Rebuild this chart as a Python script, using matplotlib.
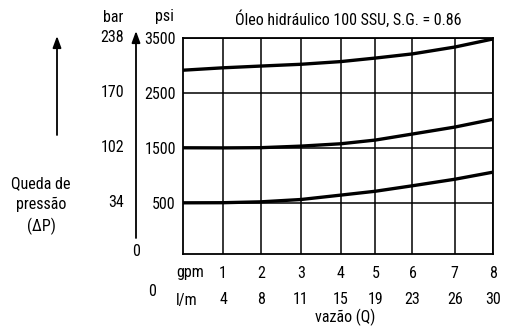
import numpy as np
import matplotlib.pyplot as plt
from matplotlib import transforms

plt.rcParams['font.family'] = ['Roboto Condensed', 'Roboto', 'DejaVu Sans']
plt.rcParams['font.size'] = 11.5

# flow gridlines (gpm positions as drawn) and their labels
x_grid = [1.04, 2.02, 3.05, 4.08, 4.97, 5.93, 7.02, 8.0]
gpm_labels = ['1', '2', '3', '4', '5', '6', '7', '8']
lpm_labels = ['4', '8', '11', '15', '19', '23', '26', '30']

# pressure ticks
psi_ticks = [500, 1500, 2500, 3500]
psi_labels = ['500', '1500', '2500', '3500']
bar_labels = ['34', '102', '170', '238']

# curves (psi) sampled at flow positions
flow = [0, 1.04, 2.02, 3.05, 4.08, 4.97, 5.93, 7.02, 8.0]
curve_high = [2909, 2953, 2985, 3017, 3066, 3130, 3206, 3330, 3476]
curve_mid = [1500, 1498, 1502, 1530, 1573, 1640, 1750, 1876, 2016]
curve_low = [500, 502, 518, 560, 640, 710, 810, 928, 1056]

W, H = 507, 327
fig = plt.figure(figsize=(W / 100, H / 100), dpi=100)
ax = fig.add_axes([182.7 / W, 1 - 254 / H, 310 / W, 216.3 / H])


def fx(px):
    return px / W


def fy(py):
    return 1 - py / H


ax.set_xlim(0, 8)
ax.set_ylim(-430, 3500)
ax.set_xticks(x_grid)
ax.set_xticklabels([])
ax.set_yticks(psi_ticks)
ax.set_yticklabels(psi_labels)
ax.tick_params(length=0, pad=5, labelsize=11.5)
ax.grid(True, color='black', lw=1.1)
for sp in ax.spines.values():
    sp.set_color('black')
    sp.set_linewidth(1.3)

for c in (curve_high, curve_mid, curve_low):
    ax.plot(flow, c, color='black', lw=2.4, solid_capstyle='butt', zorder=3)

# bar labels, same heights as psi ticks
tb = transforms.blended_transform_factory(fig.transFigure, ax.transData)
for v, s in zip(psi_ticks, bar_labels):
    ax.text(fx(124), v, s, transform=tb, ha='right', va='center')

# flow labels
tf = transforms.blended_transform_factory(ax.transData, fig.transFigure)
for x, g, l in zip(x_grid, gpm_labels, lpm_labels):
    ax.text(x, fy(273), g, transform=tf, ha='center', va='center')
    ax.text(x, fy(300), l, transform=tf, ha='center', va='center')

fig.text(fx(176), fy(273), 'gpm', ha='left', va='center')
fig.text(fx(176), fy(300), 'l/m', ha='left', va='center')
fig.text(fx(152), fy(291), '0', ha='center', va='center')
fig.text(fx(345), fy(326), 'vazão (Q)', ha='center', va='bottom')

fig.text(fx(113), fy(17), 'bar', ha='center', va='center')
fig.text(fx(164), fy(17), 'psi', ha='center', va='center')
fig.text(fx(136), fy(251), '0', ha='center', va='center')
fig.text(fx(348), fy(19), 'Óleo hidráulico 100 SSU, S.G. = 0.86',
         ha='center', va='center')
fig.text(fx(41), fy(206), 'Queda de\npressão\n(\u0394P)', ha='center',
         va='center', linespacing=1.45)

arrow = dict(arrowstyle='-|>,head_length=0.6,head_width=0.22', color='black',
             lw=1.3, shrinkA=0, shrinkB=0)
fig.add_artist(plt.Annotation('', xy=(fx(136), fy(31)), xytext=(fx(136), fy(238)),
                              xycoords='figure fraction', arrowprops=arrow))
fig.add_artist(plt.Annotation('', xy=(fx(57), fy(36)), xytext=(fx(57), fy(135)),
                              xycoords='figure fraction', arrowprops=arrow))

fig.savefig('out.png', dpi=100)
